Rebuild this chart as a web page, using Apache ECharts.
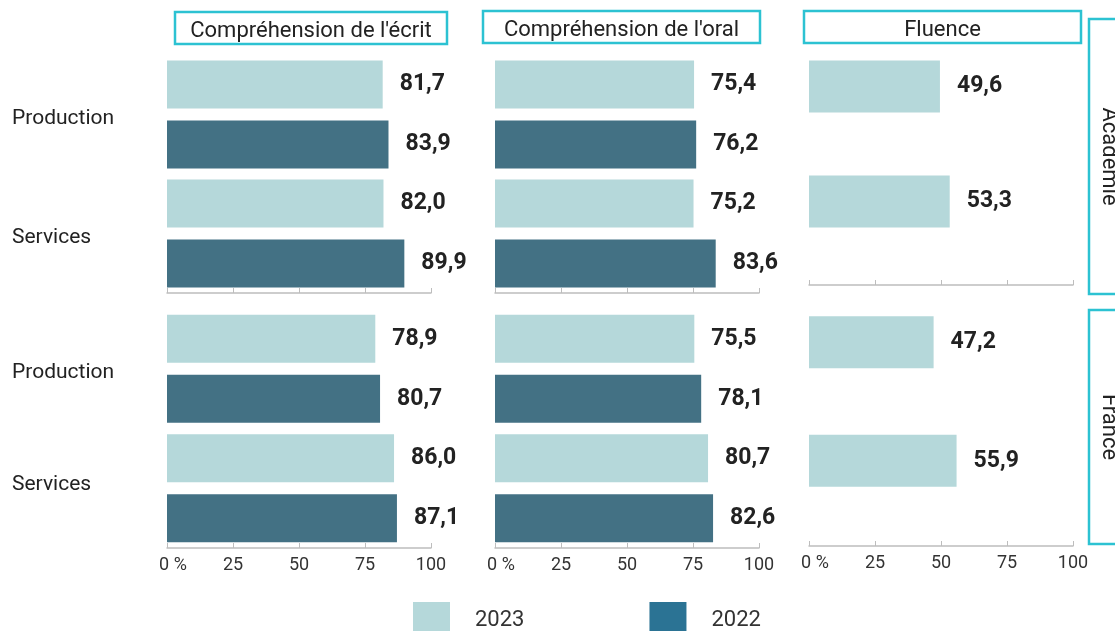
<!DOCTYPE html>
<html>
<head>
<meta charset="utf-8">
<script src="https://cdn.jsdelivr.net/npm/echarts@6/dist/echarts.min.js"></script>
<style>
  html, body { margin: 0; padding: 0; background: #fff; }
  #chart { width: 1115px; height: 631px; }
</style>
</head>
<body>
<div id="chart"></div>
<script>
// categories and labels
const categories = ['Production', 'Services'];
const panelTitles = ["Compréhension de l'écrit", "Compréhension de l'oral", 'Fluence'];
const regions = ['Académie', 'France'];
const years = ['2023', '2022'];

// Académie
const academieEcrit2023 = [81.7, 82.0];
const academieEcrit2022 = [83.9, 89.9];
const academieOral2023 = [75.4, 75.2];
const academieOral2022 = [76.2, 83.6];
const academieFluence2023 = [49.6, 53.3];
const academieFluence2022 = [null, null];

// France
const franceEcrit2023 = [78.9, 86.0];
const franceEcrit2022 = [80.7, 87.1];
const franceOral2023 = [75.5, 80.7];
const franceOral2022 = [78.1, 82.6];
const franceFluence2023 = [47.2, 55.9];
const franceFluence2022 = [null, null];

const values = [
    [[academieEcrit2023, academieEcrit2022], [academieOral2023, academieOral2022], [academieFluence2023, academieFluence2022]],
    [[franceEcrit2023, franceEcrit2022], [franceOral2023, franceOral2022], [franceFluence2023, franceFluence2022]]
];

const colors = { '2023': '#b5d8da', '2022': '#437184' };
const legendDark = '#2b7394';
const cyan = '#2cc2d2';
const font = 'Roboto, "Liberation Sans", sans-serif';

const colLeft = [167, 495, 809];
const colWidth = 264;
// [top, height] per row; the fluence column is a bit shorter
const rowBox = [[55, 238], [309, 239]];
const rowBoxFluence = [[55, 230], [309, 237]];

const grids = [], xAxes = [], yAxes = [], series = [];

for (let r = 0; r < 2; r++) {
    for (let c = 0; c < 3; c++) {
        const idx = r * 3 + c;
        const box = c === 2 ? rowBoxFluence[r] : rowBox[r];
        grids.push({ left: colLeft[c], width: colWidth, top: box[0], height: box[1] });
        xAxes.push({
            type: 'value', gridIndex: idx, min: 0, max: 100, interval: 25,
            axisLine: { show: true, lineStyle: { color: '#bdbdbd', width: 1.5 } },
            axisTick: { show: true, inside: true, length: 5, lineStyle: { color: '#bdbdbd' } },
            splitLine: { show: false },
            axisLabel: {
                show: r === 1, margin: 8, fontSize: 18, color: '#333', fontFamily: font,
                formatter: v => v === 0 ? '{z|0 %}' : String(v),
                rich: { z: { fontSize: 18, color: '#333', fontFamily: font, padding: [0, 0, 0, 12] } }
            }
        });
        yAxes.push({
            type: 'category', gridIndex: idx, data: categories, inverse: true,
            axisLine: { show: false }, axisTick: { show: false },
            axisLabel: {
                show: c === 0, align: 'left', margin: 155,
                formatter: v => (r === 1 && v === 'Services') ? '{s|' + v + '}' : '{p|' + v + '}',
                rich: {
                    p: { fontSize: 21, color: '#222', fontFamily: font, padding: [8, 0, 0, 0] },
                    s: { fontSize: 21, color: '#222', fontFamily: font, padding: [8, 0, 16, 0] }
                }
            }
        });
        years.forEach((y, k) => {
            series.push({
                name: y, type: 'bar', xAxisIndex: idx, yAxisIndex: idx,
                data: values[r][c][k],
                barWidth: c === 2 ? 52 : 48,
                barGap: c === 2 ? '0%' : '25%',
                itemStyle: { color: colors[y] },
                label: {
                    show: true, position: 'right', distance: 17,
                    fontSize: 23, fontWeight: 'bold', color: '#222', fontFamily: font,
                    formatter: p => p.value == null ? '' : p.value.toFixed(1).replace('.', ',')
                },
                emphasis: { disabled: true }
            });
        });
    }
}

// panel title boxes and region strips
const titleBoxes = [[175, 12, 272, 32], [483, 11, 277, 32], [804, 11, 277, 32]];
const stripBoxes = [[1089, 19, 60, 275], [1089, 310, 60, 234]];
const graphics = [];
titleBoxes.forEach((b, i) => {
    graphics.push({
        type: 'rect', shape: { x: b[0], y: b[1], width: b[2], height: b[3] },
        style: { fill: '#fff', stroke: cyan, lineWidth: 2.5 }, z: 10
    });
    graphics.push({
        type: 'text', x: b[0] + b[2] / 2, y: b[1] + b[3] / 2 + 3,
        style: { text: panelTitles[i], fill: '#222', fontSize: 22, fontFamily: font, align: 'center', verticalAlign: 'middle' }, z: 11
    });
});
stripBoxes.forEach((b, i) => {
    graphics.push({
        type: 'rect', shape: { x: b[0], y: b[1], width: b[2], height: b[3] },
        style: { fill: '#fff', stroke: cyan, lineWidth: 2.5 }, z: 10
    });
    graphics.push({
        type: 'text', x: 1108, y: b[1] + b[3] / 2, rotation: -Math.PI / 2,
        style: { text: regions[i], fill: '#222', fontSize: 22, fontFamily: font, align: 'center', verticalAlign: 'middle' }, z: 11
    });
});

const chart = echarts.init(document.getElementById('chart'));
chart.setOption({
    animation: false,
    grid: grids,
    xAxis: xAxes,
    yAxis: yAxes,
    series: series,
    graphic: graphics,
    legend: {
        left: 408, top: 597,
        icon: 'rect', itemWidth: 37, itemHeight: 36, itemGap: 125,
        data: [
            { name: '2023', itemStyle: { color: colors['2023'] } },
            { name: '2022', itemStyle: { color: legendDark } }
        ],
        textStyle: { fontSize: 22, color: '#333', fontFamily: font, padding: [14, 0, 0, 20] },
        selectedMode: false
    }
});
</script>
</body>
</html>
